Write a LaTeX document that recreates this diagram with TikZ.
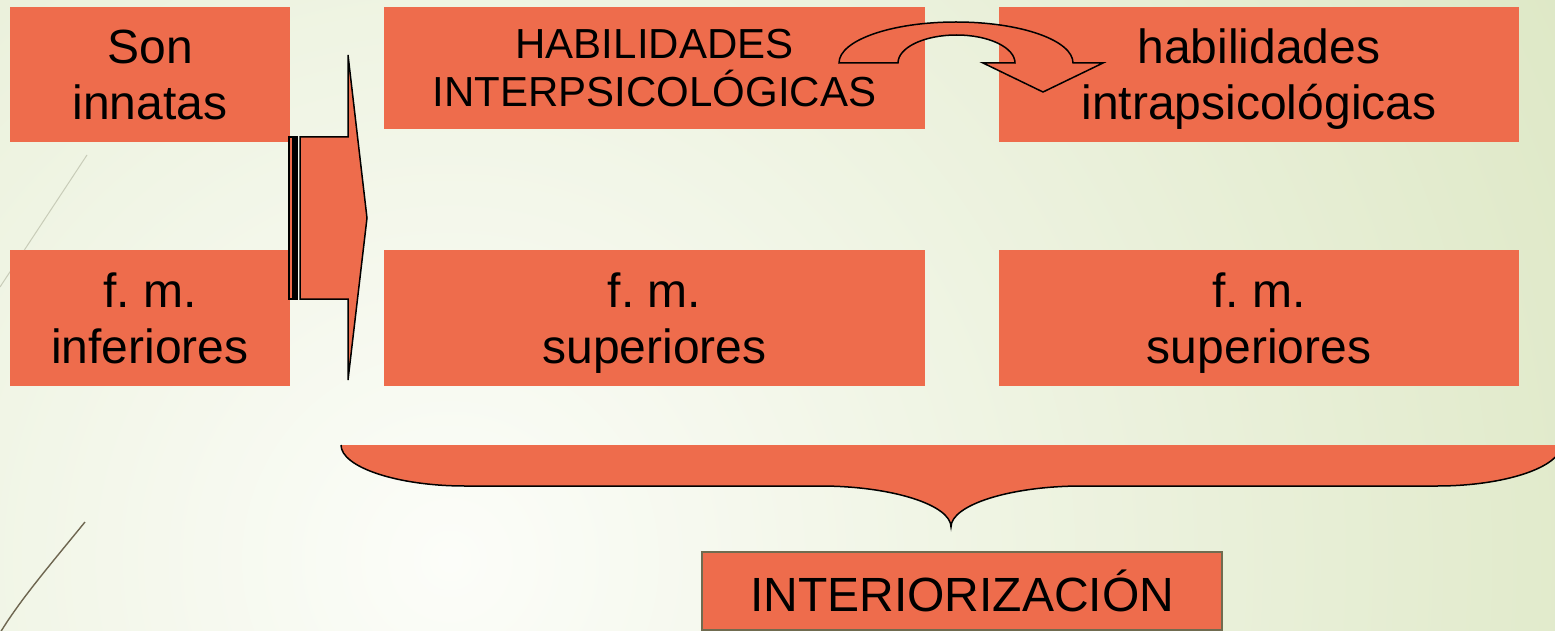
\documentclass[tikz,border=0pt]{standalone}
\usepackage{fontspec}
\setmainfont{Liberation Sans}
\frenchspacing
\definecolor{boxorange}{RGB}{238,108,76}
\definecolor{bgin}{RGB}{252,253,249}
\definecolor{bgout}{RGB}{222,232,198}
\definecolor{olivebd}{RGB}{112,108,80}
\definecolor{faintline}{RGB}{200,204,184}
\definecolor{darkline}{RGB}{110,102,80}
% first line with a fixed height, following line with no depth
\newcommand{\firstln}[2]{\rule{0pt}{#1}\smash{#2}}
\newcommand{\lastln}[1]{\smash{#1}}
\tikzset{
  box/.style={fill=boxorange, draw=none, inner sep=0pt, align=center,
    font=\fontsize{48}{56}\selectfont},
  smallbox/.style={box, font=\fontsize{42}{48}\selectfont},
  outl/.style={draw=black, line width=1.5pt, fill=boxorange, line join=miter},
}
\begin{document}
\begin{tikzpicture}[x=1pt,y=-1pt]
\useasboundingbox (0,0) rectangle (1555,631);
\begin{scope}
\clip (0,0) rectangle (1555,631);
\shade[inner color=bgin, outer color=bgout] (450,560) circle (1250);
% decorative diagonal lines
\draw[faintline, line width=1pt] (87,155) -- (0,287);
\draw[darkline, line width=1.4pt] (85,522) .. controls (50,565) and (20,600) .. (0,633);
% boxes
\node[box, minimum width=280pt, minimum height=135pt] (innatas) at (150,74.5)
  {\firstln{34.4pt}{Son}\\\lastln{innatas}};
\node[box, minimum width=280pt, minimum height=136pt] (inferiores) at (150,318)
  {\firstln{34.4pt}{f. m.}\\\lastln{inferiores}};
\node[smallbox, minimum width=541pt, minimum height=122pt] (inter) at (654.5,68)
  {\firstln{30pt}{HABILIDADES}\\\lastln{INTERPSICOLÓGICAS}};
\node[box, minimum width=520pt, minimum height=135pt] (intra) at (1259,74.5)
  {\firstln{34.4pt}{habilidades}\\\lastln{intrapsicológicas}};
\node[box, minimum width=541pt, minimum height=136pt] (sup1) at (654.5,318)
  {\firstln{34.4pt}{f. m.}\\\lastln{superiores}};
\node[box, minimum width=520pt, minimum height=136pt] (sup2) at (1259,318)
  {\firstln{34.4pt}{f. m.}\\\lastln{superiores}};
\node[box, draw=olivebd, line width=1.5pt, minimum width=520pt, minimum height=78pt] (interior) at (962,591) {INTERIORIZACIÓN};
% striped arrow
\draw[outl] (289,137) rectangle (293,299);
\draw[outl] (295,137) rectangle (297,299);
\draw[outl] (300,137) -- (348,137) -- (348,55) -- (367,218) -- (348,380) -- (348,299) -- (300,299) -- cycle;
% curved arrow
\draw[outl] (839,63) arc[start angle=180, end angle=0, x radius=117pt, y radius=41pt]
  -- (1103,63) -- (1043,92) -- (983,63) -- (1015,63)
  arc[start angle=0, end angle=180, x radius=58.5pt, y radius=28pt] -- cycle;
% brace
\fill[boxorange] (341,445) .. controls (341,467) and (397,486) .. (465,486)
  -- (820,486) .. controls (892,486) and (951,505) .. (951,527)
  .. controls (951,505) and (1010,486) .. (1082,486)
  -- (1437,486) .. controls (1505,486) and (1561,467) .. (1561,445) -- cycle;
\draw[black, line width=1.5pt] (341,445) .. controls (341,467) and (397,486) .. (465,486)
  -- (820,486) .. controls (892,486) and (951,505) .. (951,527)
  .. controls (951,505) and (1010,486) .. (1082,486)
  -- (1437,486) .. controls (1505,486) and (1561,467) .. (1561,445);
\end{scope}
\end{tikzpicture}
\end{document}
